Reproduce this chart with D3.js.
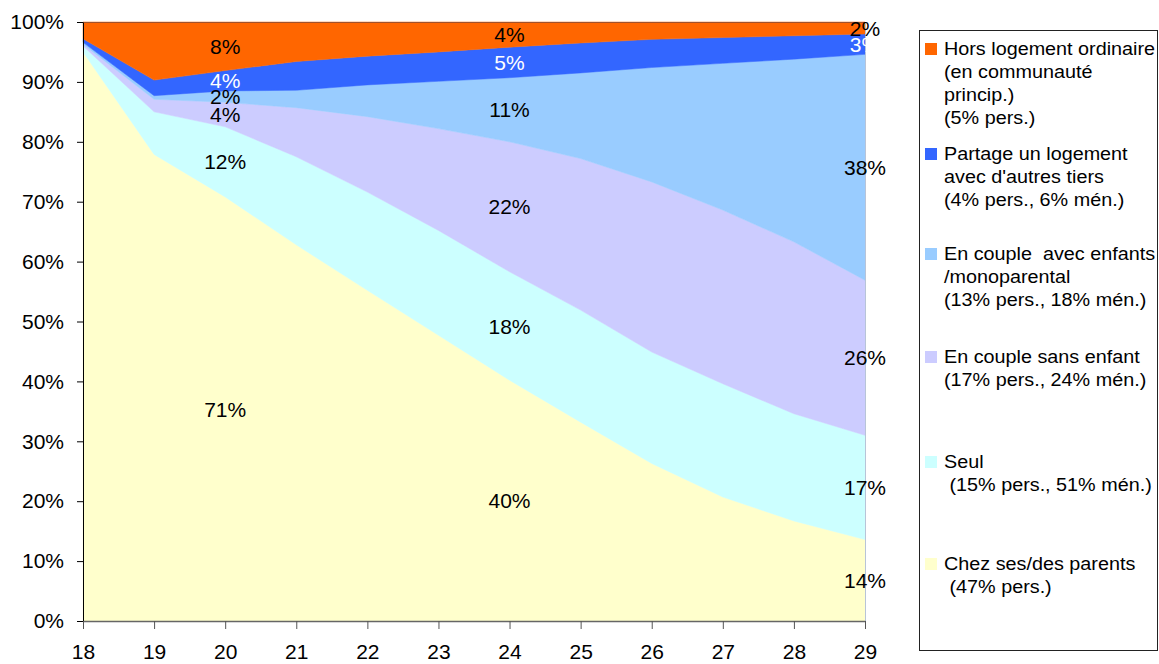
<!DOCTYPE html>
<html>
<head>
<meta charset="utf-8">
<script src="https://cdn.jsdelivr.net/npm/d3@7"></script>
<style>
  html, body { margin: 0; padding: 0; background: #fff; }
  svg { display: block; font-family: "Liberation Sans", Arial, sans-serif; }
</style>
</head>
<body>
<svg id="chart" width="1159" height="664"></svg>
<script>
// ---- data (percent of age group) ----
const ages = [18, 19, 20, 21, 22, 23, 24, 25, 26, 27, 28, 29];
const parents  = [95.0, 77.9, 70.8, 62.8, 55.2, 47.7, 40.2, 33.2, 26.3, 20.7, 16.7, 13.6];
const seul     = [1.0, 7.1, 11.7, 14.7, 16.4, 17.5, 18.1, 18.7, 18.6, 18.9, 17.9, 17.4];
const sansEnf  = [0.3, 2.1, 4.1, 8.2, 12.6, 17.0, 21.7, 25.3, 28.4, 29.0, 28.7, 25.9];
const avecEnf  = [0.3, 0.6, 1.9, 2.9, 5.3, 7.9, 10.7, 14.3, 19.1, 24.5, 30.5, 37.7];
const partage  = [0.6, 2.6, 3.4, 4.8, 4.8, 4.9, 5.1, 5.0, 4.7, 4.3, 3.9, 3.4];
const hors     = [2.8, 9.7, 8.1, 6.6, 5.7, 5.0, 4.2, 3.5, 2.9, 2.6, 2.3, 2.0];

const yTicks = [0, 10, 20, 30, 40, 50, 60, 70, 80, 90, 100];

const labelAges = [20, 24, 29];
const labelsParents = ["71%", "40%", "14%"];
const labelsSeul    = ["12%", "18%", "17%"];
const labelsSans    = ["4%", "22%", "26%"];
const labelsAvec    = ["2%", "11%", "38%"];
const labelsPartage = ["4%", "5%", "3%"];
const labelsHors    = ["8%", "4%", "2%"];

const seriesKeys = ["parents", "seul", "sans", "avec", "partage", "hors"];
const seriesColors = ["#FFFFCC", "#CCFFFF", "#CCCCFF", "#99CCFF", "#3366FF", "#FF6600"];
const seriesLabelColors = ["#000", "#000", "#000", "#000", "#fff", "#000"];

const legendLines = {
  hors: ["Hors logement ordinaire", "(en communauté", "princip.)", "(5% pers.)"],
  partage: ["Partage un logement", "avec d'autres tiers", "(4% pers., 6% mén.)"],
  avec: ["En couple  avec enfants", "/monoparental", "(13% pers., 18% mén.)"],
  sans: ["En couple sans enfant", "(17% pers., 24% mén.)"],
  seul: ["Seul", " (15% pers., 51% mén.)"],
  parents: ["Chez ses/des parents", " (47% pers.)"]
};

// ---- build table ----
const seriesValues = { parents, seul, sans: sansEnf, avec: avecEnf, partage, hors };
const seriesLabels = { parents: labelsParents, seul: labelsSeul, sans: labelsSans,
                       avec: labelsAvec, partage: labelsPartage, hors: labelsHors };
const rows = ages.map((a, i) => {
  const r = { age: a };
  seriesKeys.forEach(k => r[k] = seriesValues[k][i]);
  return r;
});

const svg = d3.select("#chart");
const plotLeft = 83, plotRight = 865, plotTop = 22, plotBottom = 621;

const x = d3.scaleLinear().domain([18, 29]).range([plotLeft, plotRight]);
const y = d3.scaleLinear().domain([0, 100]).range([plotBottom, plotTop]);

const stacked = d3.stack().keys(seriesKeys)(rows);

const area = d3.area()
  .x(d => x(d.data.age))
  .y0(d => y(d[0]))
  .y1(d => y(d[1]));

svg.append("g").selectAll("path")
  .data(stacked)
  .join("path")
  .attr("d", area)
  .attr("fill", (d, i) => seriesColors[i])
  .attr("stroke", (d, i) => seriesColors[i])
  .attr("stroke-width", 0.5);

// top edge line and right edge
svg.append("line")
  .attr("x1", x(18)).attr("x2", x(29))
  .attr("y1", y(100) + 0.5).attr("y2", y(100) + 0.5)
  .attr("stroke", "#A0522D").attr("stroke-width", 1);
svg.append("line")
  .attr("x1", x(29) + 0.5).attr("x2", x(29) + 0.5)
  .attr("y1", y(100)).attr("y2", y(0))
  .attr("stroke", "#B8C4D8").attr("stroke-width", 1);

// ---- axes ----
const yAxis = d3.axisLeft(y)
  .tickValues(yTicks)
  .tickFormat(d => d + "%")
  .tickSize(6)
  .tickSizeOuter(0)
  .tickPadding(13);
const gy = svg.append("g").attr("transform", `translate(${plotLeft},0)`).call(yAxis);
gy.selectAll("text").attr("font-size", 21).attr("fill", "#000")
  .attr("font-family", "Liberation Sans, Arial, sans-serif");
gy.selectAll("line").attr("stroke", "#000");
gy.select(".domain").attr("stroke", "#000");

const xAxis = d3.axisBottom(x)
  .tickValues(ages)
  .tickFormat(d3.format("d"))
  .tickSize(8)
  .tickSizeOuter(0)
  .tickPadding(15);
const gx = svg.append("g").attr("transform", `translate(0,${plotBottom})`).call(xAxis);
gx.selectAll("text").attr("font-size", 21).attr("fill", "#000")
  .attr("font-family", "Liberation Sans, Arial, sans-serif");
gx.selectAll("line").attr("stroke", "#555");
gx.select(".domain").attr("stroke", "#666").attr("stroke-width", 1.5);

// ---- data labels ----
const lblG = svg.append("g");
stacked.forEach((s, si) => {
  const key = seriesKeys[si];
  labelAges.forEach((a, li) => {
    const idx = ages.indexOf(a);
    const d = s[idx];
    lblG.append("text")
      .attr("x", x(a))
      .attr("y", y((d[0] + d[1]) / 2))
      .attr("dy", "0.36em")
      .attr("text-anchor", "middle")
      .attr("font-size", 21)
      .attr("fill", seriesLabelColors[si])
      .text(seriesLabels[key][li]);
  });
});

// ---- legend ----
const lg = svg.append("g");
lg.append("rect")
  .attr("x", 919.5).attr("y", 30.5)
  .attr("width", 238).attr("height", 620)
  .attr("fill", "#fff").attr("stroke", "#222").attr("stroke-width", 1);

const legendOrder = ["hors", "partage", "avec", "sans", "seul", "parents"];
const legendBaselines = [55, 160, 260, 363, 468, 570];
legendOrder.forEach((k, i) => {
  const si = seriesKeys.indexOf(k);
  const b = legendBaselines[i];
  lg.append("rect")
    .attr("x", 925).attr("y", b - 12)
    .attr("width", 12).attr("height", 12)
    .attr("fill", seriesColors[si]);
  legendLines[k].forEach((t, j) => {
    lg.append("text")
      .attr("transform", `translate(944,${b + j * 23}) scale(1.07,1)`)
      .attr("font-size", 18.5)
      .attr("fill", "#000")
      .style("white-space", "pre")
      .attr("xml:space", "preserve")
      .text(t);
  });
});
</script>
</body>
</html>
